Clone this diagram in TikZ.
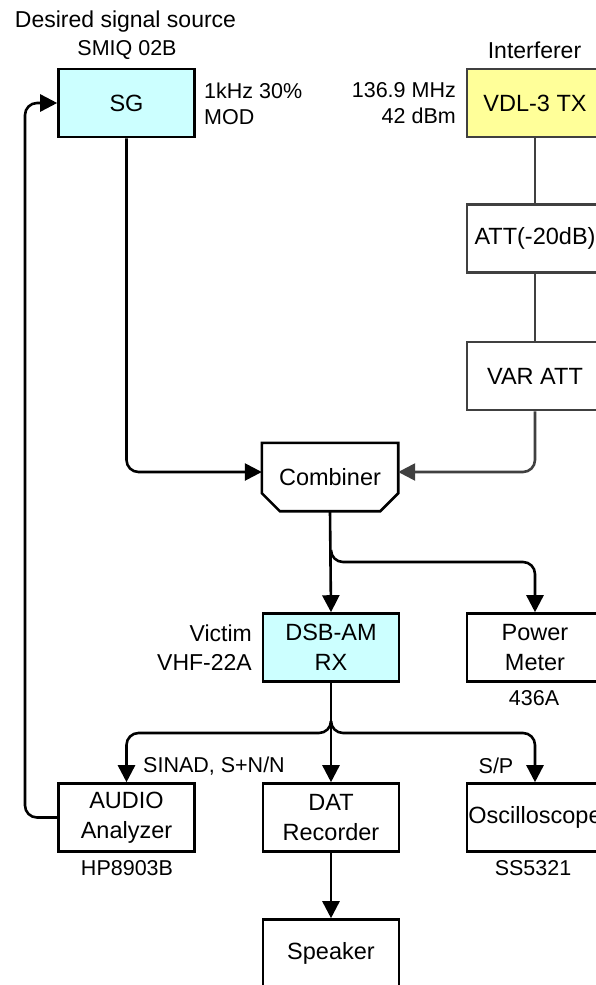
\documentclass[tikz,border=0pt]{standalone}
\usepackage{fontspec}
\setmainfont{Liberation Sans}
\usetikzlibrary{arrows.meta}
\definecolor{sgcyan}{HTML}{CCFFFF}
\definecolor{txyellow}{HTML}{FFFF99}
\definecolor{dgray}{HTML}{404040}
\begin{document}
\begin{tikzpicture}[x=1pt,y=-1pt,
  stepbox/.style={draw, line width=2.6pt, minimum width=136pt, minimum height=68pt, inner sep=0pt,
    font=\fontsize{23.5}{30}\selectfont, align=center},
  lbl/.style={font=\fontsize{21.5}{26}\selectfont, inner sep=0pt},
  biglbl/.style={font=\fontsize{23}{29}\selectfont, inner sep=0pt},
  conn/.style={line width=2.6pt, -{Triangle[length=17pt,width=17pt]}, rounded corners=12pt},
  plainline/.style={line width=2.6pt, dgray}
]
\useasboundingbox (0,0) rectangle (596,985);
\clip (0,0) rectangle (596,985);
\fill[white] (0,0) rectangle (596,985);

% boxes
\node[stepbox, fill=sgcyan] (sg) at (126.5,103) {SG};
\node[stepbox, fill=txyellow, draw=dgray] (vdl) at (535,103) {VDL-3 TX};
\node[stepbox, draw=dgray] (att) at (535,238.5) {ATT(-20dB)};
\node[stepbox, draw=dgray] (var) at (535,376) {VAR ATT};
\node[minimum width=136pt, minimum height=68pt, inner sep=0pt, font=\fontsize{23.5}{30}\selectfont] (comb) at (330,477) {Combiner};
\draw[line width=2.6pt, line join=miter] (comb.north west) -- (comb.north east) -- ([yshift=18pt]comb.south east)
  -- ([xshift=-18pt]comb.south east) -- ([xshift=18pt]comb.south west) -- ([yshift=18pt]comb.south west) -- cycle;
\node[stepbox, fill=sgcyan] (dsb) at (331,647.5) {DSB-AM\\RX};
\node[stepbox] (pm) at (535,647.5) {Power\\Meter};
\node[stepbox] (aud) at (126.5,817.5) {AUDIO\\Analyzer};
\node[stepbox] (dat) at (331,817.5) {DAT\\Recorder};
\node[stepbox] (osc) at (535,817.5) {Oscilloscope};
\node[stepbox] (spk) at (331,953.5) {Speaker};

% labels
\node[biglbl] (t1) at (125.5,22) {Desired signal source};
\node[lbl] (t2) at (127,50) {SMIQ 02B};
\node[biglbl] (t3) at (534.5,50) {Interferer};
\node[lbl, align=left, anchor=west] (t4) at (204,104) {1kHz 30\%\\MOD};
\node[lbl, align=right, anchor=east] (t5) at (456,103.5) {136.9 MHz\\42 dBm};
\node[biglbl, align=right, anchor=east] (t6) at (252,647.5) {Victim\\VHF-22A};
\node[lbl] (t7) at (534,698) {436A};
\node[lbl, anchor=west] (t8) at (143,766) {SINAD, S+N/N};
\node[lbl] (t9) at (496,766) {S/P};
\node[lbl] (t10) at (127,868) {HP8903B};
\node[lbl] (t11) at (533,868) {SS5321};

% connectors
\draw[plainline] (vdl.south) -- (att.north);
\draw[plainline] (att.south) -- (var.north);
\draw[conn, dgray] (var.south) |- ([yshift=5pt]comb.east);
\draw[conn] (sg.south) |- ([yshift=5pt]comb.west);

\draw[conn] (comb.south) -- (dsb.north);
\coordinate (j1) at (331,562);
\draw[conn] ([yshift=12pt]j1) -- (j1) -| (pm.north);

\draw[conn] (dsb.south) -- (dat.north);
\coordinate (j2) at (331,733);
\draw[conn] ([yshift=12pt]j2) -- (j2) -| (aud.north);
\draw[conn] ([yshift=12pt]j2) -- (j2) -| (osc.north);

\coordinate (fbl) at (25,817.5);
\coordinate (fbu) at (25,103);
\draw[conn] (aud.west) -- (fbl) -- (fbu) -- (sg.west);

\draw[conn] (dat.south) -- (spk.north);
\end{tikzpicture}
\end{document}
